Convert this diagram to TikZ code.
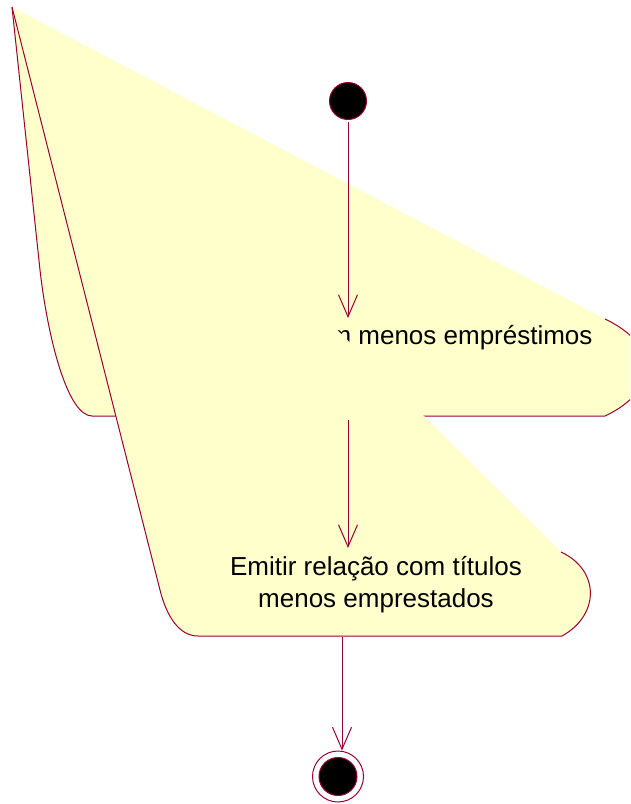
\documentclass[tikz,border=0pt]{standalone}
\usepackage{fontspec}
\setmainfont{Liberation Sans}
\usetikzlibrary{arrows.meta}
\definecolor{roseline}{RGB}{153,0,51}
\definecolor{rosefill}{RGB}{255,255,204}

\begin{document}
\begin{tikzpicture}[x=1pt, y=-1pt,
  state/.style={circle, draw=roseline, inner sep=0pt},
  activity/.style={fill=rosefill},
  activityrim/.style={draw=roseline},
  activitytext/.style={font=\fontsize{26}{32}\selectfont, inner sep=0pt, align=center},
  flow/.style={draw=roseline, -{Straight Barb[length=22pt, width=19pt]}}]
\clip (0,0) rectangle (630,804);
\begin{scope}[line width=1pt]

  % initial state
  \node[state, fill=black, minimum size=37pt] (start) at (348,101) {};

  % activity: menos emprestimos
  \coordinate (emp-in) at (348,318);
  \coordinate (emp-out) at (348,420);
  \fill[activity] (12,7) -- (605,319) .. controls (660,345) and (660,390) .. (605,416)
    -- (92,416) .. controls (68,416) and (48,340) .. (40,270) -- cycle;
  \draw[activityrim] (605,319) .. controls (660,345) and (660,390) .. (605,416)
    -- (92,416) .. controls (68,416) and (48,340) .. (40,270) -- (12,7);
  \node[activitytext, anchor=base east] (emprestimos) at (593,344) {com menos empréstimos};

  % activity: titulos menos emprestados
  \coordinate (tit-in) at (348,548);
  \coordinate (tit-out) at (342,637);
  \fill[activity] (12,7) -- (561,552) .. controls (600,570) and (600,615) .. (562,636)
    -- (198,636) .. controls (180,636) and (167,618) .. (160,590) -- cycle;
  \draw[activityrim] (561,552) .. controls (600,570) and (600,615) .. (562,636)
    -- (198,636) .. controls (180,636) and (167,618) .. (160,590) -- (12,7);
  \node[activitytext, anchor=base] (titulos) at (376,607) {Emitir relação com títulos\\menos emprestados};

  % final state
  \node[state, fill=white, minimum size=51pt] (final) at (338,776.5) {};
  \node[state, fill=black, minimum size=38pt] (final-core) at (final) {};

  % transitions
  \draw[flow, shorten <=2pt] (start) -- (emp-in);
  \draw[flow] (emp-out) -- (tit-in);
  \draw[flow] (tit-out) -- (tit-out |- final.north);

\end{scope}
\end{tikzpicture}
\end{document}
